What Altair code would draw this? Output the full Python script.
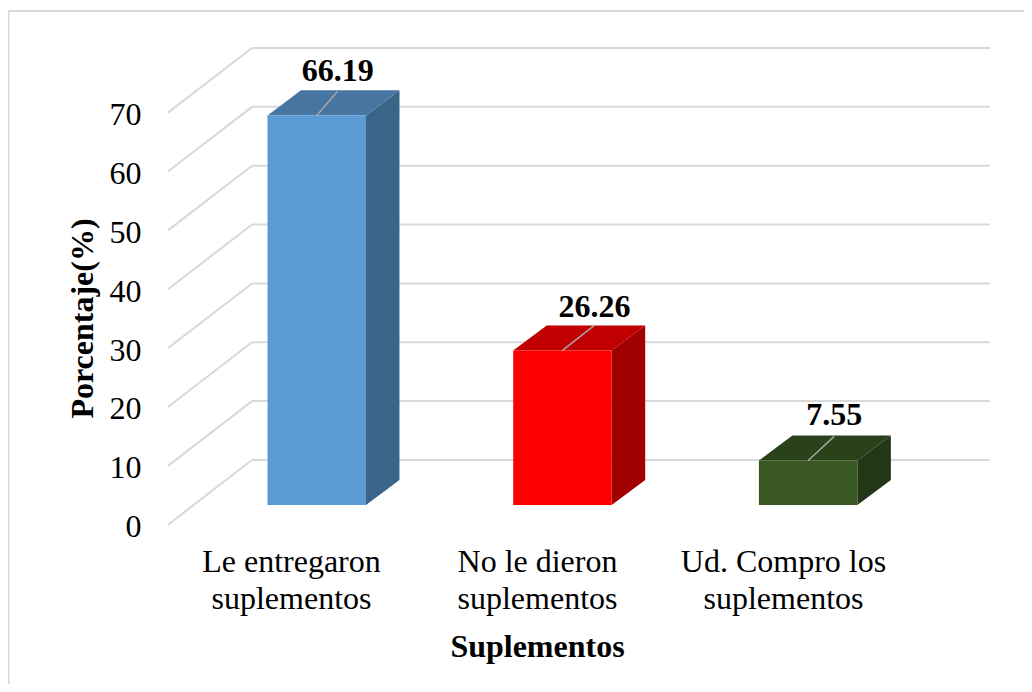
import altair as alt
import pandas as pd

categories = ["Le entregaron suplementos", "No le dieron suplementos", "Ud. Compro los suplementos"]
values = [66.19, 26.26, 7.55]
value_labels = ["66.19", "26.26", "7.55"]
ticks = [0, 10, 20, 30, 40, 50, 60, 70]
front_colors = ["#5B9BD5", "#FF0000", "#385723"]
top_colors = ["#4775A2", "#C00000", "#2A4219"]
side_colors = ["#3A6589", "#A00000", "#233717"]

W, H = 1016, 676
FONT = "Liberation Serif"
GRID = "#D9D9D9"

# scale set-up: category units horizontally, percentage units vertically
x_dom = [-1.2566, 2.8785]
y_dom = [-38.06, 76.79]
axis_x_dom = [-1.1504, 2.9797]
axis_y_dom = [-27.06, 87.78]

half = 0.2004        # half bar width
dx = 0.1363          # depth of the bar, horizontally
dy = 4.25            # depth of the bar, vertically
front_base = -7.645  # floor level of the bar fronts
wall_left, wall_right, tick_left = -0.2636, 2.740, -0.6055
tick_rise = 10.99
leader_dx = [0.085, 0.130, 0.106]
leader_rise = [4.1, 4.25, 4.1]
label_rise = [7.6, 7.4, 7.8]

X = lambda f, ax=None: alt.X(f, type="quantitative", scale=alt.Scale(domain=x_dom), axis=ax)
Y = lambda f, ax=None: alt.Y(f, type="quantitative", scale=alt.Scale(domain=y_dom), axis=ax)

front, faces, leaders, labels = [], [], [], []
for i, v in enumerate(values):
    x0, x1 = i - half, i + half
    top = front_base + v
    front.append(dict(x=x0, x2=x1, y=front_base, y2=top, c=front_colors[i]))
    # side face
    faces += [
        dict(f=f"s{i}", x=x1, y=front_base, y2=top, c=side_colors[i]),
        dict(f=f"s{i}", x=x1 + dx, y=front_base + dy, y2=top + dy, c=side_colors[i]),
    ]
    # top face
    faces += [
        dict(f=f"t{i}", x=x0, y=top, y2=top, c=top_colors[i]),
        dict(f=f"t{i}", x=x0 + dx, y=top, y2=top + dy, c=top_colors[i]),
        dict(f=f"t{i}", x=x1, y=top, y2=top + dy, c=top_colors[i]),
        dict(f=f"t{i}", x=x1 + dx, y=top + dy, y2=top + dy, c=top_colors[i]),
    ]
    leaders.append(dict(x=i, x2=i + leader_dx[i], y=top, y2=top + leader_rise[i]))
    labels.append(dict(x=i + leader_dx[i], y=top + label_rise[i], t=value_labels[i]))

front, faces, leaders, labels = map(pd.DataFrame, (front, faces, leaders, labels))
wall = pd.DataFrame({"y": ticks, "x": wall_left, "x2": wall_right})
diag = pd.DataFrame({"y": ticks, "y2": [t + tick_rise for t in ticks], "x": tick_left, "x2": wall_left})
cats = pd.DataFrame({"i": [0, 1, 2], "y": [0, 0, 0]})

label_expr = (
    "datum.value == 0 ? ['Le entregaron', 'suplementos'] : "
    "datum.value == 1 ? ['No le dieron', 'suplementos'] : "
    "['Ud. Compro los', 'suplementos']"
)

frame_left = alt.Chart(pd.DataFrame({"a": [0]})).mark_rule(color=GRID, strokeWidth=2).encode(
    x=alt.value(0.5), y=alt.value(3), y2=alt.value(H))
frame_top = alt.Chart(pd.DataFrame({"a": [0]})).mark_rule(color=GRID, strokeWidth=2).encode(
    y=alt.value(3), x=alt.value(0), x2=alt.value(W))

wall_lines = alt.Chart(wall).mark_rule(color=GRID, strokeWidth=2).encode(
    x=X("x"), x2="x2", y=Y("y"))

y_axis = alt.Axis(
    orient="left", offset=-133, values=ticks, domain=False, ticks=False, grid=False,
    labelFont=FONT, labelFontSize=32, labelColor="#000000", labelPadding=0, labelOffset=2,
    title="Porcentaje(%)", titleFont=FONT, titleFontSize=32, titleFontWeight="bold",
    titleColor="#000000", titleX=-59, titleY=310, titleAngle=270,
    titleAlign="center", titleBaseline="middle",
)
diag_lines = alt.Chart(diag).mark_rule(color=GRID, strokeWidth=2).encode(
    x=X("x"), x2="x2",
    y=alt.Y("y", type="quantitative", scale=alt.Scale(domain=axis_y_dom), axis=y_axis),
    y2="y2",
)

x_axis = alt.Axis(
    orient="bottom", offset=-138, values=[0, 1, 2], domain=False, ticks=False, grid=False,
    labelExpr=label_expr, labelFont=FONT, labelFontSize=32, labelColor="#000000",
    labelPadding=0, labelLineHeight=37.5, labelOverlap=False, labelFlush=False, labelBaseline="top",
    labelAngle=0, labelLimit=400,
    title="Suplementos", titleFont=FONT, titleFontSize=32, titleFontWeight="bold",
    titleColor="#000000", titleX=529, titleY=100, titleAlign="center", titleBaseline="middle",
)
x_axis_layer = alt.Chart(cats).mark_point(opacity=0).encode(
    x=alt.X("i", type="quantitative", scale=alt.Scale(domain=axis_x_dom), axis=x_axis),
    y=Y("y"),
)

faces_layer = alt.Chart(faces).mark_area(opacity=1).encode(
    x=X("x"), y=Y("y"), y2="y2", detail="f:N", color=alt.Color("c:N", scale=None),
)
fronts_layer = alt.Chart(front).mark_rect().encode(
    x=X("x"), x2="x2", y=Y("y"), y2="y2", color=alt.Color("c:N", scale=None),
)
leaders_layer = alt.Chart(leaders).mark_rule(color="#A6A6A6", strokeWidth=1.5).encode(
    x=X("x"), x2="x2", y=Y("y"), y2="y2",
)
labels_layer = alt.Chart(labels).mark_text(
    font=FONT, fontSize=32, fontWeight="bold", color="#000000", align="center", baseline="middle",
).encode(x=X("x"), y=Y("y"), text="t:N")

chart = alt.layer(
    frame_left, frame_top, wall_lines, diag_lines, x_axis_layer,
    faces_layer, fronts_layer, leaders_layer, labels_layer,
).resolve_scale(x="independent", y="independent").properties(
    width=W, height=H, padding=0, autosize=alt.AutoSizeParams(type="none"), background="#FFFFFF",
).configure_view(stroke=None)

chart.save("out.html", embed_options={"renderer": "svg", "actions": False})
